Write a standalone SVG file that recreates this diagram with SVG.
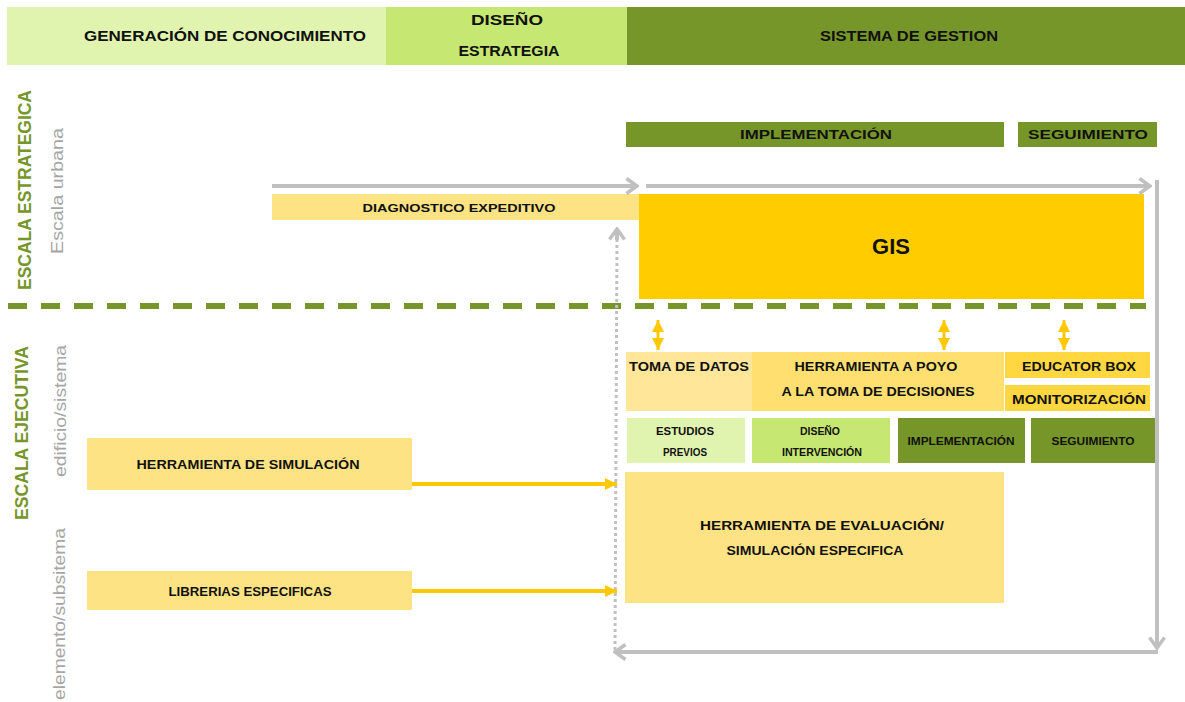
<svg xmlns="http://www.w3.org/2000/svg" width="1185" height="702" viewBox="0 0 1185 702">
<defs>
<marker id="chev" viewBox="0 0 14 18" refX="12" refY="9" markerWidth="14" markerHeight="18" markerUnits="userSpaceOnUse" orient="auto">
<path d="M1.5,1.5 L12,9 L1.5,16.5" fill="none" stroke="#c0c0c0" stroke-width="3.5"/>
</marker>
<marker id="tri" viewBox="0 0 10 10" refX="10" refY="5" markerWidth="12" markerHeight="13" markerUnits="userSpaceOnUse" orient="auto">
<path d="M0,0 L10,5 L0,10 Z" fill="#ffc800"/>
</marker>
<marker id="triS" viewBox="0 0 10 10" refX="10" refY="5" markerWidth="12" markerHeight="12" markerUnits="userSpaceOnUse" orient="auto-start-reverse">
<path d="M0,0 L10,5 L0,10 Z" fill="#ffc800"/>
</marker>
</defs>
<style>
text{font-family:"Liberation Sans",Arial,sans-serif;font-weight:bold;fill:#111;text-anchor:middle}
.h{font-size:15px}
.m{font-size:13px}
.s{font-size:11px}
.side{font-weight:normal;fill:#a6a6a6;font-size:17px}
.sideg{fill:#77962a;font-size:18px}
.lg{fill:#e0f4b0}
.mg{fill:#c6e771}
.dg{fill:#77962a}
.y{fill:#fee384}
.gray{stroke:#c0c0c0;stroke-width:4;fill:none}
.ya{stroke:#ffc800;stroke-width:4;fill:none}
.yd{stroke:#ffc800;stroke-width:3;fill:none}
</style>
<rect width="1185" height="702" fill="#fff"/>

<g id="header">
<rect x="7" y="7" width="379" height="58" class="lg"/>
<rect x="386" y="7" width="241" height="58" class="mg"/>
<rect x="627" y="7" width="558" height="58" class="dg"/>
<text class="h" x="225" y="41" textLength="282" lengthAdjust="spacingAndGlyphs">GENERACIÓN DE CONOCIMIENTO</text>
<text class="h" x="507" y="25" textLength="72" lengthAdjust="spacingAndGlyphs">DISEÑO</text>
<text class="h" x="509" y="56" textLength="101" lengthAdjust="spacingAndGlyphs">ESTRATEGIA</text>
<text class="h" x="909" y="41" textLength="178" lengthAdjust="spacingAndGlyphs">SISTEMA DE GESTION</text>
</g>

<g id="side-labels">
<text class="sideg" transform="translate(31,190) rotate(-90)" textLength="200" lengthAdjust="spacingAndGlyphs">ESCALA ESTRATEGICA</text>
<text class="side" transform="translate(63,191) rotate(-90)" textLength="126" lengthAdjust="spacingAndGlyphs">Escala urbana</text>
<text class="sideg" transform="translate(28,433) rotate(-90)" textLength="174" lengthAdjust="spacingAndGlyphs">ESCALA EJECUTIVA</text>
<text class="side" transform="translate(66,411) rotate(-90)" textLength="132" lengthAdjust="spacingAndGlyphs">edificio/sistema</text>
<text class="side" transform="translate(65,614) rotate(-90)" textLength="172" lengthAdjust="spacingAndGlyphs">elemento/subsitema</text>
</g>

<g id="divider">
<line x1="8" y1="306" x2="1146" y2="306" stroke="#77962a" stroke-width="6" stroke-dasharray="19 14"/>
</g>

<g id="implementacion-bar">
<rect x="626" y="122" width="378" height="25" class="dg"/>
<text class="m" x="816" y="139" textLength="152" lengthAdjust="spacingAndGlyphs">IMPLEMENTACIÓN</text>
</g>
<g id="seguimiento-bar">
<rect x="1018" y="122" width="139" height="25" class="dg"/>
<text class="m" x="1088" y="139" textLength="120" lengthAdjust="spacingAndGlyphs">SEGUIMIENTO</text>
</g>

<g id="diagnostico">
<rect x="272" y="194" width="367" height="26" class="y"/>
<text class="s" x="459" y="212" textLength="193" lengthAdjust="spacingAndGlyphs">DIAGNOSTICO EXPEDITIVO</text>
</g>
<g id="gis">
<rect x="639" y="194" width="505" height="105" fill="#ffcc00"/>
<text x="891" y="254" style="font-size:22px">GIS</text>
</g>

<g id="toma-datos">
<rect x="626" y="352" width="126" height="59" fill="#ffe699"/>
<text class="m" x="689" y="371" textLength="120" lengthAdjust="spacingAndGlyphs">TOMA DE DATOS</text>
</g>
<g id="herramienta-apoyo">
<rect x="752" y="352" width="252" height="59" fill="#fedf70"/>
<text class="m" x="876" y="371" textLength="163" lengthAdjust="spacingAndGlyphs">HERRAMIENTA A POYO</text>
<text class="m" x="878" y="396" textLength="193" lengthAdjust="spacingAndGlyphs">A LA TOMA DE DECISIONES</text>
</g>
<g id="educator-box">
<rect x="1005" y="352" width="145" height="26" fill="#ffd740"/>
<text class="m" x="1079" y="371" textLength="114" lengthAdjust="spacingAndGlyphs">EDUCATOR BOX</text>
</g>
<g id="monitorizacion">
<rect x="1005" y="385" width="145" height="26" fill="#ffd740"/>
<text class="m" x="1079" y="404" textLength="134" lengthAdjust="spacingAndGlyphs">MONITORIZACIÓN</text>
</g>

<g id="estudios-previos">
<rect x="627" y="418" width="118" height="45" class="lg"/>
<text class="s" x="685" y="435" textLength="58" lengthAdjust="spacingAndGlyphs">ESTUDIOS</text>
<text class="s" x="685" y="456" textLength="44" lengthAdjust="spacingAndGlyphs">PREVIOS</text>
</g>
<g id="diseno-intervencion">
<rect x="752" y="418" width="138" height="45" class="mg"/>
<text class="s" x="820" y="435" textLength="40" lengthAdjust="spacingAndGlyphs">DISEÑO</text>
<text class="s" x="822" y="456" textLength="80" lengthAdjust="spacingAndGlyphs">INTERVENCIÓN</text>
</g>
<g id="implementacion-small">
<rect x="898" y="418" width="127" height="45" class="dg"/>
<text class="s" x="961" y="445" textLength="107" lengthAdjust="spacingAndGlyphs">IMPLEMENTACIÓN</text>
</g>
<g id="seguimiento-small">
<rect x="1031" y="418" width="126" height="45" class="dg"/>
<text class="s" x="1093" y="445" textLength="83" lengthAdjust="spacingAndGlyphs">SEGUIMIENTO</text>
</g>

<g id="herramienta-simulacion">
<rect x="87" y="438" width="325" height="52" class="y"/>
<text class="m" x="248" y="469" textLength="223" lengthAdjust="spacingAndGlyphs">HERRAMIENTA DE SIMULACIÓN</text>
</g>
<g id="librerias">
<rect x="87" y="571" width="325" height="39" class="y"/>
<text class="m" x="250" y="596" textLength="163" lengthAdjust="spacingAndGlyphs">LIBRERIAS ESPECIFICAS</text>
</g>
<g id="herramienta-evaluacion">
<rect x="625" y="472" width="379" height="131" class="y"/>
<text class="m" x="822" y="530" textLength="244" lengthAdjust="spacingAndGlyphs">HERRAMIENTA DE EVALUACIÓN/</text>
<text class="m" x="815" y="555" textLength="177" lengthAdjust="spacingAndGlyphs">SIMULACIÓN ESPECIFICA</text>
</g>

<g id="connectors">
<line x1="272" y1="186" x2="637" y2="186" class="gray" marker-end="url(#chev)"/>
<line x1="646" y1="186" x2="1150" y2="186" class="gray" marker-end="url(#chev)"/>
<line x1="1157" y1="180" x2="1157" y2="648" class="gray" marker-end="url(#chev)"/>
<line x1="1158" y1="652" x2="615" y2="652" class="gray" marker-end="url(#chev)"/>
<line x1="615" y1="650" x2="617" y2="234" stroke="#c0c0c0" stroke-width="3" stroke-dasharray="3 3" fill="none"/>
<line x1="617" y1="240" x2="617" y2="229" class="gray" marker-end="url(#chev)"/>
<line x1="412" y1="484" x2="617" y2="484" class="ya" marker-end="url(#tri)"/>
<line x1="412" y1="591" x2="617" y2="591" class="ya" marker-end="url(#tri)"/>
<line x1="658" y1="320" x2="658" y2="350" class="yd" marker-start="url(#triS)" marker-end="url(#triS)"/>
<line x1="944" y1="320" x2="944" y2="350" class="yd" marker-start="url(#triS)" marker-end="url(#triS)"/>
<line x1="1064" y1="320" x2="1064" y2="350" class="yd" marker-start="url(#triS)" marker-end="url(#triS)"/>
</g>
</svg>
